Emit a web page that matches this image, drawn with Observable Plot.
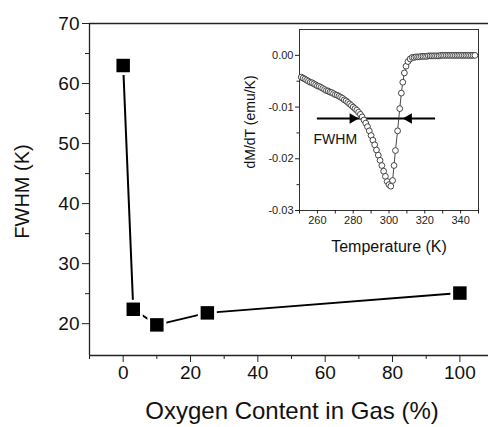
<!DOCTYPE html>
<html><head><meta charset="utf-8">
<script src="https://cdn.jsdelivr.net/npm/d3@7"></script>
<script src="https://cdn.jsdelivr.net/npm/@observablehq/plot@0.6"></script>
<style>
html,body{margin:0;padding:0;background:#fff;}
#wrap{position:relative;width:488px;height:427px;overflow:hidden;background:#fff;}
#wrap svg{position:absolute;}
</style></head><body><div id="wrap"></div>
<script>
// Main chart data
const oxygen = [0, 3, 10, 25, 100];
const fwhm = [63.0, 22.4, 19.8, 21.8, 25.1];
const xTicks = [0, 20, 40, 60, 80, 100];
const xMinor = [-10, 10, 30, 50, 70, 90];
const yTicks = [20, 30, 40, 50, 60, 70];
const yMinor = [25, 35, 45, 55, 65];

// Inset data (dM/dT vs temperature)
const temperature = [
  251,252,253,254,255,256,257,258,259,260,261,262,263,264,265,266,267,268,269,270,
  271,272,273,274,275,276,277,278,279,280,281,282,283,284,285,286,287,288,289,290,
  291,292,293,294,295,296,297,298,299,300,301,
  302.0,302.8,303.6,304.8,306.0,306.9,307.7,308.6,309.5,310.6,311.8,313.0,
  314,315,316,317,318,319,320,321,322,323,324,325,326,327,328,329,330,331,332,333,
  334,335,336,337,338,339,340,341,342,343,344,345,346,347,348
];
const dMdT = [
  -0.0042,-0.0044,-0.0046,-0.0048,-0.0050,-0.0052,-0.0053,-0.0055,-0.0057,-0.0059,
  -0.0060,-0.0062,-0.0064,-0.0066,-0.0068,-0.0069,-0.0071,-0.0072,-0.0074,-0.0076,
  -0.0077,-0.0079,-0.0081,-0.0083,-0.0086,-0.0088,-0.0091,-0.0094,-0.0097,-0.0100,
  -0.0103,-0.0106,-0.0110,-0.0114,-0.0119,-0.0125,-0.0131,-0.0138,-0.0146,-0.0155,
  -0.0164,-0.0173,-0.0183,-0.0193,-0.0203,-0.0213,-0.0224,-0.0234,-0.0244,-0.0250,-0.0253,
  -0.0242,-0.0213,-0.0184,-0.0146,-0.0103,-0.0073,-0.0052,-0.0034,-0.0021,-0.0012,-0.0007,-0.0004,
  -0.0004,-0.0003,-0.0003,-0.0003,-0.0002,-0.0002,-0.0002,-0.0002,-0.0001,-0.0001,
  -0.0001,-0.0001,-0.0001,-0.0001,-0.0001,0.0000,0.0000,0.0000,0.0000,0.0000,
  0.0000,0.0000,0.0000,0.0000,0.0000,0.0000,0.0000,0.0000,0.0000,0.0000,
  0.0000,0.0000,0.0000,0.0000,0.0000
];
const insetXTicks = [260, 280, 300, 320, 340];
const insetXMinor = [250, 270, 290, 310, 330, 350];
const insetYTicks = [0, -0.01, -0.02, -0.03];
const insetYMinor = [-0.005, -0.015, -0.025];
// FWHM marker (half maximum level and arrow positions)
const halfMax = -0.0122;
const arrowSpan = [260, 326];
const arrowHeads = [{T: 279.7, rot: 90}, {T: 311.1, rot: -90}];

const font = "'Liberation Sans', Arial, Helvetica, sans-serif";
const mainData = oxygen.map((x, i) => ({x, y: fwhm[i]}));
const insetData = temperature.map((T, i) => ({T, v: dMdT[i]}));

const main = Plot.plot({
  width: 488, height: 427,
  marginLeft: 89, marginRight: 0, marginTop: 23, marginBottom: 72,
  style: {fontFamily: font, fontSize: "19px", color: "#111", background: "transparent", overflow: "visible"},
  x: {domain: [-10, 108.5]},
  y: {domain: [14.7, 70]},
  marks: [
    Plot.ruleY([70], {stroke: "#222", strokeWidth: 1.3}),
    Plot.ruleX([-10], {stroke: "#222", strokeWidth: 1.3}),
    Plot.ruleY([14.7], {stroke: "#222", strokeWidth: 1.3}),
    Plot.axisY(yTicks, {tickSize: 7, tickPadding: 3, label: null, stroke: "#222"}),
    Plot.axisY(yMinor, {tickSize: 4, text: null, label: null, stroke: "#222"}),
    Plot.axisX(xTicks, {tickSize: 7, tickPadding: 3, label: null, stroke: "#222"}),
    Plot.axisX(xMinor, {tickSize: 4, text: null, label: null, stroke: "#222"}),
    Plot.line(mainData, {x: "x", y: "y", stroke: "#000", strokeWidth: 2}),
    Plot.dot(mainData, {x: "x", y: "y", symbol: "square", r: 10.7, fill: "white"}),
    Plot.dot(mainData, {x: "x", y: "y", symbol: "square", r: 7.6, fill: "black"}),
    Plot.text(["FWHM (K)"], {text: d => d, frameAnchor: "left", textAnchor: "middle", lineAnchor: "middle", rotate: -90, dx: -67, dy: 2, fontSize: 20, fill: "#111"}),
    Plot.text(["Oxygen Content in Gas (%)"], {text: d => d, frameAnchor: "bottom", textAnchor: "middle", lineAnchor: "middle", dx: 3, dy: 56, fontSize: 24, fill: "#111"})
  ]
});
main.style.left = "0px"; main.style.top = "0px";

const inset = Plot.plot({
  width: 253, height: 237,
  marginLeft: 64, marginRight: 10, marginTop: 4, marginBottom: 52,
  style: {fontFamily: font, fontSize: "11px", color: "#222", background: "transparent", overflow: "visible"},
  x: {domain: [250, 350]},
  y: {domain: [-0.03, 0.005]},
  marks: [
    Plot.frame({stroke: "#333", strokeWidth: 1}),
    Plot.axisY(insetYTicks, {tickSize: 4, tickPadding: 2, tickFormat: d => d.toFixed(2), label: null}),
    Plot.axisY(insetYMinor, {tickSize: 2.5, text: null, label: null}),
    Plot.axisX(insetXTicks, {tickSize: 3.5, tickPadding: 2, label: null}),
    Plot.axisX(insetXMinor, {tickSize: 3.5, text: null, label: null}),
    Plot.ruleY([halfMax], {x1: arrowSpan[0], x2: arrowSpan[1], stroke: "#000", strokeWidth: 2}),
    Plot.dot(arrowHeads, {x: "T", y: () => halfMax, symbol: "triangle", r: 3.9, rotate: "rot", fill: "#000"}),
    Plot.line(insetData, {x: "T", y: "v", stroke: "#333", strokeWidth: 0.9}),
    Plot.dot(insetData, {x: "T", y: "v", r: 2.9, fill: "white", stroke: "#333", strokeWidth: 0.9}),
    Plot.text(["FWHM"], {text: d => d, x: () => 270, y: () => -0.0162, fontSize: 14, fill: "#111"}),
    Plot.text(["dM/dT (emu/K)"], {text: d => d, frameAnchor: "left", textAnchor: "middle", lineAnchor: "middle", rotate: -90, dx: -49, dy: 2, fontSize: 14, fill: "#111"}),
    Plot.text(["Temperature (K)"], {text: d => d, frameAnchor: "bottom", textAnchor: "middle", lineAnchor: "middle", dy: 36, fontSize: 16, fill: "#111"})
  ]
});
inset.style.left = "235px"; inset.style.top = "25px";

const wrap = document.getElementById("wrap");
wrap.appendChild(main);
wrap.appendChild(inset);
</script>
</body></html>
